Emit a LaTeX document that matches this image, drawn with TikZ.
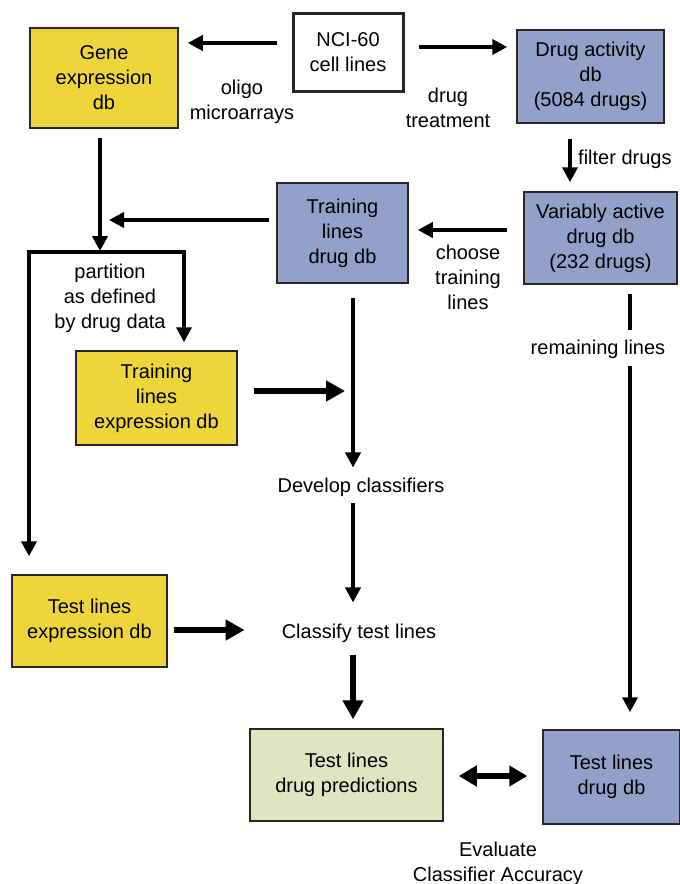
\documentclass[tikz,border=0pt]{standalone}
\usepackage{fontspec}
\setmainfont{Liberation Sans}
\usetikzlibrary{arrows.meta,positioning}

\definecolor{exprYellow}{RGB}{238,214,58}
\definecolor{drugBlue}{RGB}{146,160,202}
\definecolor{predGreen}{RGB}{223,229,193}

\begin{document}
\begin{tikzpicture}[
  x=1pt,y=-1pt,
  font=\fontsize{20}{25}\selectfont,
  dbbox/.style={draw=black!85,line width=1.5pt,align=center,inner sep=0pt},
  lbl/.style={align=center,inner sep=0pt},
  wire/.style={line width=4pt},
  flow/.style={line width=4pt,-{Triangle[length=15pt,width=15pt]}},
  boldflow/.style={line width=5.5pt,-{Triangle[length=19pt,width=20pt]}},
  boldboth/.style={line width=5.5pt,{Triangle[length=18pt,width=20pt]}-{Triangle[length=18pt,width=20pt]}}
]
  \useasboundingbox (0,0) rectangle (680,884);

  \node[dbbox,line width=3pt,minimum width=110pt,minimum height=78pt] (nci) at (348,52) {NCI-60\\cell lines};
  \node[dbbox,fill=exprYellow,minimum width=148pt,minimum height=100pt] (gene) at (104,78) {Gene\\expression\\db};
  \node[dbbox,fill=drugBlue,minimum width=147pt,minimum height=93pt] (act) at (590.5,76.5) {Drug activity\\db\\(5084 drugs)};
  \node[dbbox,fill=drugBlue,minimum width=153pt,minimum height=92pt] (var) at (600.5,238) {Variably active\\drug db\\(232 drugs)};
  \node[dbbox,fill=drugBlue,minimum width=131pt,minimum height=100pt] (trdrug) at (342.5,233) {Training\\lines\\drug db};
  \node[dbbox,fill=exprYellow,minimum width=161pt,minimum height=94pt] (trexp) at (156.5,398) {Training\\lines\\expression db};
  \node[dbbox,fill=exprYellow,minimum width=155pt,minimum height=92pt] (teexp) at (89.5,621) {Test lines\\expression db};
  \node[dbbox,fill=predGreen,minimum width=193pt,minimum height=92pt] (pred) at (346.5,775) {Test lines\\drug predictions};
  \node[dbbox,fill=drugBlue,minimum width=137pt,minimum height=94pt] (tedrug) at (611.5,777) {Test lines\\drug db};

  \node[lbl] (dev) at (361,487) {Develop classifiers};
  \node[lbl] (cls) at (359,633) {Classify test lines};
  \node[lbl] (rem) at (598,349) {remaining lines};
  \node[lbl] (oligo) at (242,102) {oligo\\microarrays};
  \node[lbl] (treat) at (448,107.5) {drug\\treatment};
  \node[lbl,anchor=west] (filter) at (578,159) {filter drugs};
  \node[lbl] (choose) at (468,277) {choose\\training\\lines};
  \node[lbl] (part) at (110,298) {partition\\as defined\\by drug data};
  \node[lbl] (eval) at (498,863.5) {Evaluate\\Classifier Accuracy};

  \coordinate (merge) at (100,220);
  \coordinate (split) at (100,252);
  \coordinate (bl) at (29,252);
  \coordinate (br) at (184,252);
  \coordinate (mid) at (353,391);

  \draw[flow] ([xshift=-15pt,yshift=9pt]nci.west) -- ([xshift=9pt,yshift=35pt]gene.east);
  \draw[flow] ([xshift=14pt,yshift=5pt]nci.east) -- ([xshift=-9pt,yshift=29.5pt]act.west);
  \draw[flow] ([xshift=-20.5pt,yshift=-15pt]act.south) -- ([xshift=-30.5pt,yshift=9pt]var.north);
  \draw[flow] ([xshift=-16pt,yshift=8pt]var.west) -- ([xshift=9pt,yshift=3pt]trdrug.east);
  \draw[flow] ([xshift=-7pt,yshift=13pt]trdrug.west) -- ([xshift=9pt]merge);
  \draw[flow,shorten >=1pt] ([xshift=-4pt,yshift=-9pt]gene.south) -- (split);
  \draw[flow,shorten >=8pt] (bl) -- (br) -- (br |- trexp.north);
  \draw[flow,shorten >=18pt] (br) -- (bl) -- (bl |- teexp.north);
  \draw[boldflow] ([xshift=16pt,yshift=7pt]trexp.east) -- ([xshift=-8pt]mid);
  \draw[flow,shorten <=14pt,shorten >=10pt] (mid |- trdrug.south) -- (mid |- dev.north);
  \draw[flow,shorten <=6pt,shorten >=21pt] (mid |- dev.south) -- (mid |- cls.north);
  \draw[boldflow] ([xshift=6pt,yshift=-9pt]teexp.east) -- ([xshift=-37pt,yshift=3pt]cls.west);
  \draw[boldflow,shorten <=12pt,shorten >=9pt] (mid |- cls.south) -- (mid |- pred.north);
  \draw[boldboth] ([xshift=15pt,yshift=-1pt]pred.east) -- ([xshift=-15pt,yshift=1pt]tedrug.west);
  \draw[wire,shorten <=9pt,shorten >=9pt] ([xshift=18.5pt]tedrug.north |- var.south) -- ([xshift=18.5pt]tedrug.north |- rem.north);
  \draw[flow,shorten <=7pt,shorten >=17pt] ([xshift=18.5pt]tedrug.north |- rem.south) -- ([xshift=18.5pt]tedrug.north);
\end{tikzpicture}
\end{document}
